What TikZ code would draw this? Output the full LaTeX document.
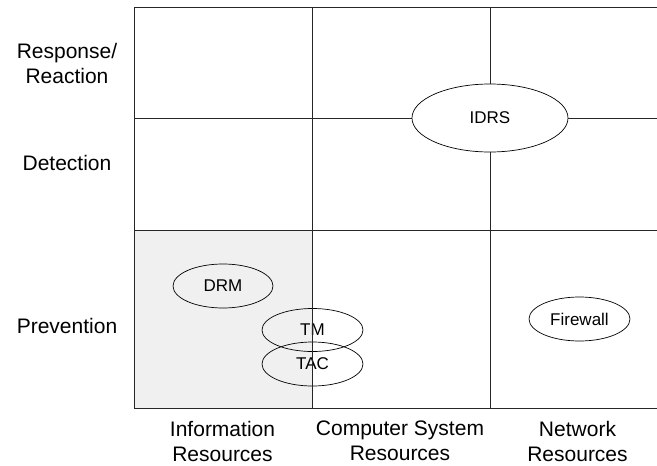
\documentclass[tikz,border=0pt]{standalone}
\usepackage{fontspec}
\setmainfont{Liberation Sans}
\usetikzlibrary{shapes.geometric}
\begin{document}
\begin{tikzpicture}[x=1pt,y=-1pt,
  grid/.style={line width=0.8pt,black!85},
  label/.style={align=center,font=\fontsize{21}{25}\selectfont,inner sep=0pt},
  oval/.style={ellipse,draw,line width=0.7pt,inner sep=0pt,font=\fontsize{17}{20}\selectfont},
]
\useasboundingbox (0,0) rectangle (657,466);

% shaded cell: information resources / prevention
\fill[gray!12] (134,230) rectangle (312,408);

% ovals
\node[oval,fill=white,minimum width=156,minimum height=68] (idrs) at (490,118) {IDRS};
\node[oval,minimum width=100,minimum height=44] (drm) at (223,286) {DRM};
\node[oval,minimum width=101,minimum height=43] (tm) at (312.5,330) {TM};
\node[oval,minimum width=101,minimum height=44] (tac) at (312.5,364) {TAC};
\node[oval,minimum width=101,minimum height=44] (fw) at (579.5,319) {Firewall};

% grid
\draw[grid] (657,7) -- (134,7) -- (134,408) -- (657,408);
\draw[grid] (312,7) -- (312,408);
\draw[grid] (134,230) -- (657,230);
\draw[grid] (490,7) -- (idrs.north);
\draw[grid] (idrs.south) -- (490,408);
\draw[grid] (134,118) -- (idrs.west);
\draw[grid] (idrs.east) -- (657,118);

% row labels
\node[label] (rr) at (67,63) {Response/\\Reaction};
\node[label] (det) at (67,163) {Detection};
\node[label] (prev) at (67,326) {Prevention};

% column labels
\node[label] (info) at (222.5,441) {Information\\Resources};
\node[label] (comp) at (400,441) {Computer System\\Resources};
\node[label] (net) at (577.5,441) {Network\\Resources};
\end{tikzpicture}
\end{document}
